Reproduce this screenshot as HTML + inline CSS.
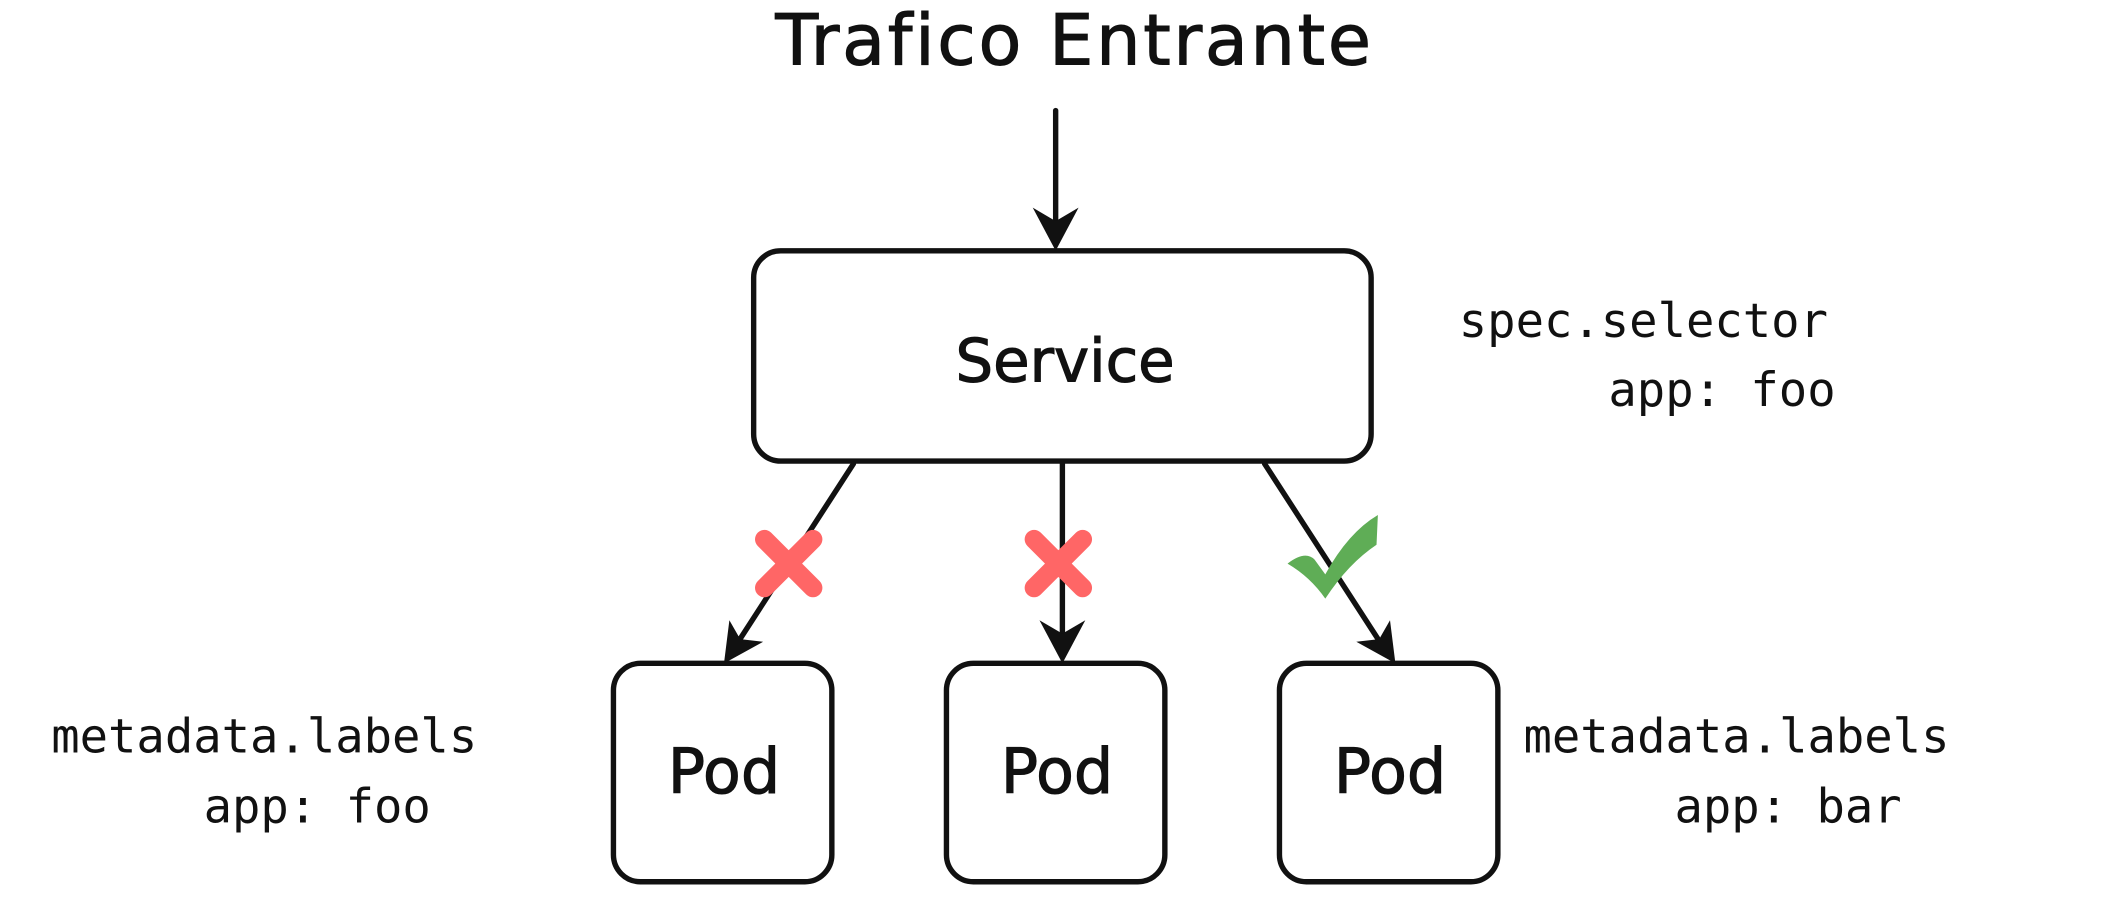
<!DOCTYPE html>
<html><head><meta charset="utf-8"><style>
html,body{margin:0;padding:0;background:#fff;}
svg{display:block;}
.h{font-family:"DejaVu Sans","Liberation Sans",sans-serif;fill:#111;stroke:#111;stroke-width:0.8;}
.m{font-family:"DejaVu Sans Mono","Liberation Mono",monospace;font-size:35px;fill:#111;}
</style></head><body>
<svg width="2114" height="902" viewBox="0 0 1568 669" xmlns="http://www.w3.org/2000/svg">
<text class="h" x="797" y="48" text-anchor="middle" font-size="52" letter-spacing="2">Trafico Entrante</text>
<g stroke="#111" stroke-width="4" fill="none" stroke-linecap="round">
<line x1="783" y1="82" x2="783" y2="170"/>
<rect x="559" y="186" width="458" height="156" rx="20"/>
<rect x="455" y="492" width="162" height="162" rx="20"/>
<rect x="702" y="492" width="162" height="162" rx="20"/>
<rect x="949" y="492" width="162" height="162" rx="20"/>
<line x1="633" y1="344" x2="545" y2="480"/>
<line x1="788" y1="344" x2="788" y2="478"/>
<line x1="938" y1="344" x2="1026" y2="480"/>
</g>
<g fill="#111">
<path d="M766 154 L783 186 L800 154 L783 164 Z"/>
<path d="M541 460 L537 492 L566 476 L549 474 Z"/>
<path d="M771 460 L788 492 L805 460 L788 470 Z"/>
<path d="M1031 460 L1035 492 L1006 476 L1023 474 Z"/>
</g>
<text class="h" x="790" y="283" text-anchor="middle" font-size="44">Service</text>
<text class="h" x="537" y="588" text-anchor="middle" font-size="46">Pod</text>
<text class="h" x="784" y="588" text-anchor="middle" font-size="46">Pod</text>
<text class="h" x="1031" y="588" text-anchor="middle" font-size="46">Pod</text>
<g stroke="#ff6666" stroke-width="14" stroke-linecap="round">
<line x1="567" y1="400" x2="603" y2="436"/><line x1="603" y1="400" x2="567" y2="436"/>
<line x1="767" y1="400" x2="803" y2="436"/><line x1="803" y1="400" x2="767" y2="436"/>
</g>
<path d="M955 418 Q968 408 975 415 L983 426 Q1000 395 1022 382 L1021 404 Q1000 418 983 444 Q972 428 955 418 Z" fill="#5fad56"/>
<text class="m" x="1082" y="250">spec.selector</text>
<text class="m" x="1193" y="301">app: foo</text>
<text class="m" x="38" y="558">metadata.labels</text>
<text class="m" x="151" y="610">app: foo</text>
<text class="m" x="1130" y="558">metadata.labels</text>
<text class="m" x="1242" y="610">app: bar</text>
</svg>
</body></html>
